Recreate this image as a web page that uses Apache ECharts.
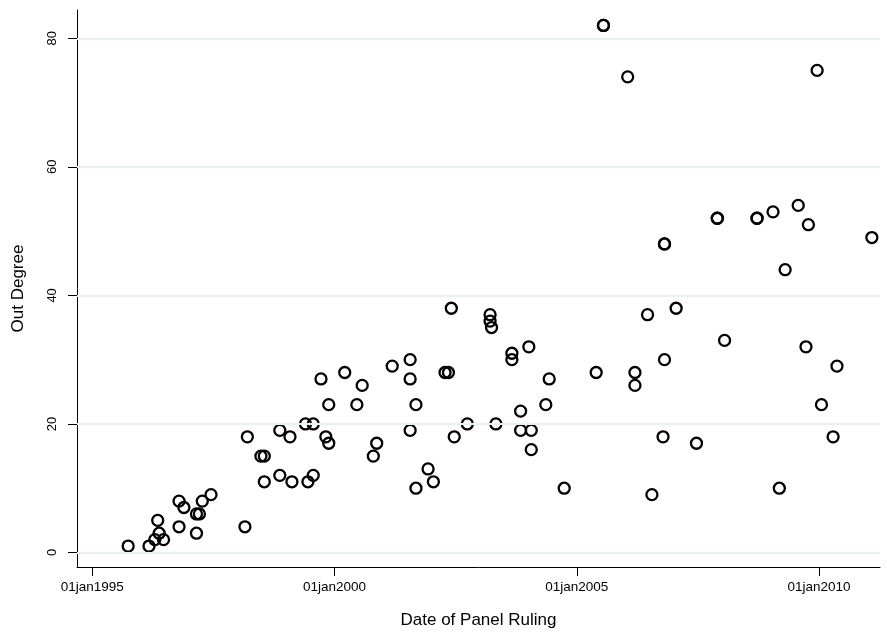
<!DOCTYPE html>
<html>
<head>
<meta charset="utf-8">
<script src="https://cdn.jsdelivr.net/npm/echarts@6/dist/echarts.min.js"></script>
<style>
html,body{margin:0;padding:0;background:#fff;}
#chart{width:887px;height:634px;}
</style>
</head>
<body>
<div id="chart"></div>
<script>
// Date of panel ruling (decimal year) and out degree
var rulingDates = [
1995.74,1996.17,1996.29,1996.38,1996.35,1996.47,1996.79,1996.79,1996.89,1997.15,
1997.15,1997.21,1997.27,1997.45,1998.15,1998.20,1998.48,1998.55,1998.55,1998.87,
1998.87,1999.08,1999.12,1999.45,1999.56,1999.40,1999.56,1999.72,1999.82,1999.88,
1999.88,2000.21,2000.46,2000.57,2000.87,2000.80,2001.19,2001.56,2001.56,2001.68,
2001.56,2001.93,2002.04,2001.68,2002.28,2002.35,2002.41,2003.21,2003.21,2003.24,
2003.66,2003.66,2004.01,2004.43,2005.40,2004.36,2003.84,2002.74,2003.33,2002.47,
2003.84,2004.06,2004.06,2004.74,2005.55,2005.55,2006.05,2009.96,2006.81,2006.81,
2007.90,2007.90,2008.72,2008.72,2009.05,2009.57,2009.78,2011.09,2009.30,2006.46,
2007.05,2008.05,2009.73,2010.37,2006.81,2006.20,2006.20,2010.05,2006.78,2007.47,
2010.29,2006.55,2009.18
];
var outDegree = [
1,1,2,3,5,2,4,8,7,3,
6,6,8,9,4,18,15,15,11,19,
12,18,11,11,12,20,20,27,18,17,
23,28,23,26,17,15,29,30,27,23,
19,13,11,10,28,28,38,37,36,35,
31,30,32,27,28,23,22,20,20,18,
19,19,16,10,82,82,74,75,48,48,
52,52,52,52,53,54,51,49,44,37,
38,33,32,29,30,28,26,23,18,17,
18,9,10
];
var xTickYears = [1995, 2000, 2005, 2010];
var yTickValues = [0, 20, 40, 60, 80];

var points = rulingDates.map(function (d, i) { return [d, outDegree[i]]; });
var font = '"Liberation Sans", Arial, Helvetica, sans-serif';

var chart = echarts.init(document.getElementById('chart'), null, {renderer: 'canvas'});
chart.setOption({
  animation: false,
  backgroundColor: '#ffffff',
  grid: {left: 77, right: 7, top: 10, bottom: 67, containLabel: false},
  xAxis: {
    type: 'value',
    min: 1994.684,
    max: 2011.258,
    name: 'Date of Panel Ruling',
    nameLocation: 'middle',
    nameGap: 45,
    nameTextStyle: {fontFamily: font, fontSize: 17, color: '#000'},
    axisLine: {show: true, onZero: false, lineStyle: {color: '#000', width: 1}},
    axisTick: {show: true, length: 9, customValues: xTickYears, lineStyle: {color: '#000', width: 1}},
    axisLabel: {
      customValues: xTickYears,
      margin: 13,
      fontFamily: font, fontSize: 13.5, color: '#000',
      formatter: function (v) { return '01jan' + Math.round(v); }
    },
    splitLine: {show: false}
  },
  yAxis: {
    type: 'value',
    min: -2.256,
    max: 84.40,
    name: 'Out Degree',
    nameLocation: 'middle',
    nameRotate: 90,
    nameGap: 50,
    nameTextStyle: {fontFamily: font, fontSize: 17, color: '#000'},
    axisLine: {show: true, onZero: false, lineStyle: {color: '#000', width: 1}},
    axisTick: {show: true, length: 9, customValues: yTickValues, lineStyle: {color: '#000', width: 1}},
    axisLabel: {
      customValues: yTickValues,
      rotate: 90,
      margin: 18,
      fontFamily: font, fontSize: 13, color: '#000'
    },
    splitLine: {show: false}
  },
  series: [
    {
      type: 'scatter',
      data: [],
      z: 1,
      silent: true,
      markLine: {
        silent: true,
        symbol: ['none', 'none'],
        label: {show: false},
        lineStyle: {color: '#e8f0f3', width: 2, type: 'solid', opacity: 1},
        data: yTickValues.map(function (v) { return {yAxis: v}; })
      }
    },
    {
      type: 'scatter',
      z: 3,
      symbol: 'circle',
      symbolSize: 11,
      itemStyle: {color: 'rgba(255,255,255,0)', borderColor: '#000', borderWidth: 2.3, opacity: 1},
      data: points
    }
  ]
});
</script>
</body>
</html>
